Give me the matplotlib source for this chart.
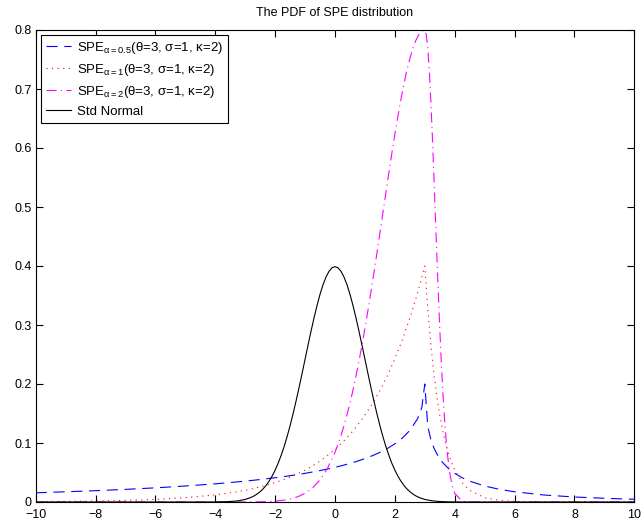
import matplotlib
matplotlib.use("Agg")
import matplotlib.pyplot as plt
from matplotlib.ticker import FixedLocator, FixedFormatter

plt.rcParams['font.family'] = ['Liberation Sans', 'DejaVu Sans']
plt.rcParams['mathtext.fontset'] = 'custom'
plt.rcParams['mathtext.rm'] = 'Liberation Sans'
plt.rcParams['mathtext.it'] = 'Liberation Sans'
plt.rcParams['mathtext.bf'] = 'Liberation Sans'

# x positions shared by the two cusp-shaped SPE curves (alpha = 0.5 and 1)
x = [-10, -9, -8, -7, -6, -5, -4, -3.5, -3, -2.75, -2.5, -2.25, -2, -1.75, -1.5, -1.25,
     -1, -0.75, -0.5, -0.25, 0, 0.25, 0.5, 0.75, 1, 1.25, 1.5, 1.75, 2, 2.25, 2.5, 2.75,
     2.9, 3, 3.1, 3.2, 3.3, 3.4, 3.5, 3.6, 3.7, 3.8, 3.9, 4, 4.25, 4.5, 5, 5.5, 6, 7, 8, 9, 10]

spe_a05 = [0.0156, 0.0173, 0.0192, 0.0214, 0.0240, 0.0271, 0.0308, 0.0330, 0.0354, 0.0367,
           0.0381, 0.0396, 0.0411, 0.0428, 0.0446, 0.0466, 0.0486, 0.0509, 0.0533, 0.0559,
           0.0588, 0.0619, 0.0654, 0.0692, 0.0736, 0.0785, 0.0841, 0.0907, 0.0986, 0.1084,
           0.1213, 0.1404, 0.1600, 0.2000, 0.1279, 0.1063, 0.0922, 0.0818, 0.0736, 0.0669,
           0.0613, 0.0564, 0.0523, 0.0486, 0.0411, 0.0354, 0.0271, 0.0214, 0.0173, 0.0118,
           0.0085, 0.0063, 0.0047]

spe_a1 = [0.0006, 0.0010, 0.0016, 0.0027, 0.0044, 0.0073, 0.0121, 0.0155, 0.0199, 0.0226,
          0.0256, 0.0290, 0.0328, 0.0372, 0.0422, 0.0478, 0.0541, 0.0613, 0.0695, 0.0788,
          0.0893, 0.1011, 0.1146, 0.1299, 0.1472, 0.1668, 0.1890, 0.2141, 0.2426, 0.2749,
          0.3115, 0.3530, 0.3805, 0.4000, 0.3275, 0.2681, 0.2195, 0.1797, 0.1472, 0.1205,
          0.0986, 0.0808, 0.0661, 0.0541, 0.0328, 0.0199, 0.0073, 0.0027, 0.0010, 0.0001,
          0.0, 0.0, 0.0]

# SPE alpha = 2 (smooth peak)
x_a2 = [-10, -4, -3, -2.75, -2.5, -2.25, -2, -1.75, -1.5, -1.25, -1, -0.75, -0.5, -0.25,
        0, 0.1, 0.2, 0.3, 0.4, 0.5, 0.6, 0.7, 0.8, 0.9, 1.0, 1.1, 1.2, 1.3, 1.4, 1.5,
        1.6, 1.7, 1.8, 1.9, 2.0, 2.1, 2.2, 2.3, 2.4, 2.5, 2.6, 2.7, 2.8, 2.9, 3.0,
        3.05, 3.1, 3.15, 3.2, 3.25, 3.3, 3.35, 3.4, 3.45, 3.5, 3.55, 3.6, 3.65, 3.7,
        3.75, 3.8, 3.85, 3.9, 3.95, 4.0, 4.25, 4.5, 5, 10]
spe_a2 = [0.0, 0.0, 0.0001, 0.0002, 0.0004, 0.0008, 0.0015, 0.0028, 0.0051, 0.0087,
          0.0147, 0.0238, 0.0374, 0.0571,
          0.0843, 0.0977, 0.1127, 0.1293, 0.1476, 0.1677, 0.1895, 0.2132, 0.2386, 0.2656,
          0.2943, 0.3245, 0.3559, 0.3884, 0.4218, 0.4558, 0.4901, 0.5243, 0.5581, 0.5912,
          0.6230, 0.6534, 0.6817, 0.7078, 0.7311, 0.7515, 0.7686, 0.7822, 0.7920, 0.7980,
          0.8000, 0.7920, 0.7686, 0.7311, 0.6817, 0.6230, 0.5581, 0.4901, 0.4218, 0.3559,
          0.2943, 0.2386, 0.1895, 0.1476, 0.1127, 0.0843, 0.0619, 0.0445, 0.0313, 0.0216,
          0.0147, 0.0015, 0.0001, 0.0, 0.0]

# Standard normal
x_norm = [-10, -4.5, -4.0, -3.9, -3.8, -3.7, -3.6, -3.5, -3.4, -3.3, -3.2, -3.1, -3.0,
          -2.9, -2.8, -2.7, -2.6, -2.5, -2.4, -2.3, -2.2, -2.1, -2.0, -1.9, -1.8, -1.7,
          -1.6, -1.5, -1.4, -1.3, -1.2, -1.1, -1.0, -0.9, -0.8, -0.7, -0.6, -0.5, -0.4,
          -0.3, -0.2, -0.1, 0.0, 0.1, 0.2, 0.3, 0.4, 0.5, 0.6, 0.7, 0.8, 0.9, 1.0, 1.1,
          1.2, 1.3, 1.4, 1.5, 1.6, 1.7, 1.8, 1.9, 2.0, 2.1, 2.2, 2.3, 2.4, 2.5, 2.6, 2.7,
          2.8, 2.9, 3.0, 3.1, 3.2, 3.3, 3.4, 3.5, 3.6, 3.7, 3.8, 3.9, 4.0, 4.5, 10]
std_normal = [0.0, 0.0, 0.0001, 0.0002, 0.0003, 0.0004, 0.0006, 0.0009, 0.0012, 0.0017,
              0.0024, 0.0033, 0.0044, 0.0060, 0.0079, 0.0104, 0.0136, 0.0175, 0.0224,
              0.0283, 0.0355, 0.0440, 0.0540, 0.0656, 0.0790, 0.0940, 0.1109, 0.1295,
              0.1497, 0.1714, 0.1942, 0.2179, 0.2420, 0.2661, 0.2897, 0.3123, 0.3332,
              0.3521, 0.3683, 0.3814, 0.3910, 0.3970, 0.3989, 0.3970, 0.3910, 0.3814,
              0.3683, 0.3521, 0.3332, 0.3123, 0.2897, 0.2661, 0.2420, 0.2179, 0.1942,
              0.1714, 0.1497, 0.1295, 0.1109, 0.0940, 0.0790, 0.0656, 0.0540, 0.0440,
              0.0355, 0.0283, 0.0224, 0.0175, 0.0136, 0.0104, 0.0079, 0.0060, 0.0044,
              0.0033, 0.0024, 0.0017, 0.0012, 0.0009, 0.0006, 0.0004, 0.0003, 0.0002,
              0.0001, 0.0, 0.0]

labels = [r'SPE$_{\mathrm{α=0.5}}$(θ=3, σ=1, κ=2)',
          r'SPE$_{\mathrm{α=1}}$(θ=3, σ=1, κ=2)',
          r'SPE$_{\mathrm{α=2}}$(θ=3, σ=1, κ=2)',
          'Std Normal']

xticks = [-10, -8, -6, -4, -2, 0, 2, 4, 6, 8, 10]
xticklabels = ['\u221210', '\u22128', '\u22126', '\u22124', '\u22122', '0', '2', '4', '6', '8', '10']
yticks = [0, 0.1, 0.2, 0.3, 0.4, 0.5, 0.6, 0.7, 0.8]
yticklabels = ['0', '0.1', '0.2', '0.3', '0.4', '0.5', '0.6', '0.7', '0.8']

fig = plt.figure(figsize=(6.44, 5.27), dpi=100)
ax = fig.add_axes([35.7 / 644, 25 / 527, (634.3 - 35.7) / 644, (502 - 30) / 527])

ax.plot(x, spe_a05, color=(0, 0, 1), linestyle=(0, (10, 6)), linewidth=0.8, label=labels[0])
ax.plot(x, spe_a1, color=(1, 0, 0), linestyle=(0, (1, 4)), linewidth=0.8, label=labels[1])
ax.plot(x_a2, spe_a2, color=(1, 0, 1), linestyle=(0, (9, 4, 1, 4)), linewidth=0.8, label=labels[2])
ax.plot(x_norm, std_normal, color='black', linestyle='-', linewidth=0.8, label=labels[3])

ax.set_xlim(-10, 10)
ax.set_ylim(0, 0.8)
ax.xaxis.set_major_locator(FixedLocator(xticks))
ax.xaxis.set_major_formatter(FixedFormatter(xticklabels))
ax.yaxis.set_major_locator(FixedLocator(yticks))
ax.yaxis.set_major_formatter(FixedFormatter(yticklabels))
ax.tick_params(direction='in', top=True, right=True, length=5, width=0.8, labelsize=9)
ax.tick_params(axis='x', pad=5)
ax.tick_params(axis='y', pad=3)
for s in ax.spines.values():
    s.set_linewidth(0.8)

ax.set_title('The PDF of SPE distribution', fontsize=9, pad=10)

leg = ax.legend(loc='upper left', fontsize=9.5, frameon=True, fancybox=False, shadow=False,
                borderaxespad=0.4, handlelength=1.9, handletextpad=0.5, labelspacing=0.45,
                borderpad=0.35)
leg.get_frame().set_edgecolor('black')
leg.get_frame().set_linewidth(0.8)
leg.get_frame().set_alpha(1)

fig.savefig('out.png', dpi=100)
